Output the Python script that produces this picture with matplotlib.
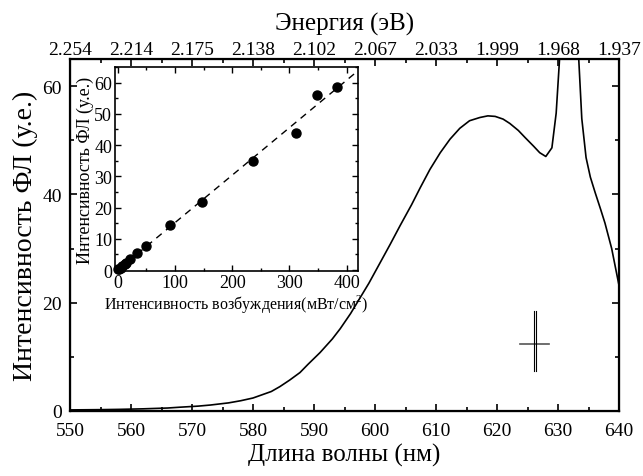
import numpy as np
import matplotlib
matplotlib.use('Agg')
import matplotlib.pyplot as plt
from matplotlib.ticker import MultipleLocator

plt.rcParams['font.family']=['Liberation Serif','DejaVu Serif']
plt.rcParams['mathtext.fontset']='custom'
plt.rcParams['mathtext.rm']='Liberation Serif'

# PL spectrum (wavelength nm, intensity a.u.)
wl=[550,555,558,562,566,568,571,573,576,578,580,581,583,584.4,586,587.7,589,591,593,594.3,596,597.5,599,600.8,602.5,604.1,606,607.4,609,610.7,612.3,613.9,615.5,617.2,618.5,619.7,621,622.1,623.5,624.6,626,627,628,629,629.7,630.2,631,631.6,632.4,633.4,633.9,634.6,635.3,636.1,637,637.7,638.8,640]
pl=[0.2,0.25,0.3,0.4,0.55,0.7,0.9,1.1,1.5,1.9,2.4,2.8,3.6,4.5,5.7,7.1,8.6,10.8,13.3,15.2,18.0,20.8,23.6,27.3,30.8,34.2,38.1,41.2,44.6,47.7,50.2,52.2,53.6,54.2,54.5,54.4,53.9,53.1,51.8,50.5,48.9,47.7,47.0,48.6,55.0,64.0,80.0,88.0,80.0,65.0,54.0,46.8,43.2,40.3,37.2,34.7,30.0,23.2]
wl_ticks=[550,560,570,580,590,600,610,620,630,640]
energy_labels=['2.254','2.214','2.175','2.138','2.102','2.067','2.033','1.999','1.968','1.937']
# resolution marker
res_x=[623.8,628.5]; res_y=12.4
res_vx=[626.0,626.4]; res_vy=[7.4,18.4]
# inset: PL vs excitation intensity
exc=[0,2,5,8,12,15,21,34,50,92,147,237,312,348,383]
ipl=[0.2,0.4,0.8,1.2,1.8,2.2,3.4,5.4,7.7,14.5,21.7,34.8,43.9,56.1,58.6]
fit_x=[0,420]; fit_y=[0,63.8]

fig=plt.figure(figsize=(6.43,4.77),dpi=100)
ax=fig.add_axes([70/643,1-412/477,549/643,352/477])
ax.plot(wl,pl,'k-',lw=1.2)
ax.plot(res_x,[res_y,res_y],'-',color='#555555',lw=1.2)
for xv in res_vx: ax.plot([xv,xv],res_vy,'k-',lw=0.8)
ax.set_xlim(550,640); ax.set_ylim(0,65)
ax.set_xticks(wl_ticks); ax.xaxis.set_minor_locator(MultipleLocator(5))
ax.set_yticks([0,20,40,60]); ax.yaxis.set_minor_locator(MultipleLocator(10))
ax.tick_params(which='both',direction='in',top=False,right=True,labelsize=14,width=1.2)
ax.tick_params(which='major',length=5); ax.tick_params(which='minor',length=3)
ax.tick_params(axis='x',pad=8); ax.tick_params(axis='y',pad=6)
for s in ax.spines.values(): s.set_linewidth(1.6)
ax.set_xlabel('Длина волны (нм)',fontsize=18,labelpad=3)
ax.set_ylabel('Интенсивность ФЛ (у.е.)',fontsize=20,labelpad=3)

ax2=ax.twiny()
ax2.set_xlim(550,640)
ax2.set_xticks(wl_ticks); ax2.set_xticklabels(energy_labels)
ax2.xaxis.set_minor_locator(MultipleLocator(5))
ax2.tick_params(which='both',direction='in',labelsize=14,width=1.2,pad=1)
ax2.tick_params(which='major',length=5); ax2.tick_params(which='minor',length=3)
ax2.set_xlabel('Энергия (эВ)',fontsize=18,labelpad=8)

ins=fig.add_axes([115/643,1-272/477,243/643,204/477])
ins.plot(fit_x,fit_y,'k--',lw=1.0,dashes=(5,4))
ins.plot(exc,ipl,'ko',ms=6.5,clip_on=False)
ins.set_xlim(-5,420); ins.set_ylim(-0.3,65)
ins.set_xticks([0,100,200,300,400]); ins.xaxis.set_minor_locator(MultipleLocator(50))
ins.set_yticks([0,10,20,30,40,50,60]); ins.yaxis.set_minor_locator(MultipleLocator(5))
ins.tick_params(which='both',direction='in',top=True,right=True,labelsize=13,width=1.0,pad=2)
ins.tick_params(which='major',length=4); ins.tick_params(which='minor',length=2.5)
for s in ins.spines.values(): s.set_linewidth(1.2)
ins.set_xlabel('Интенсивность возбуждения(мВт/см$^2$)',fontsize=11.5,labelpad=1)
ins.set_ylabel('Интенсивность ФЛ (у.е.)',fontsize=13,labelpad=0)

fig.savefig('out.png',dpi=100)
